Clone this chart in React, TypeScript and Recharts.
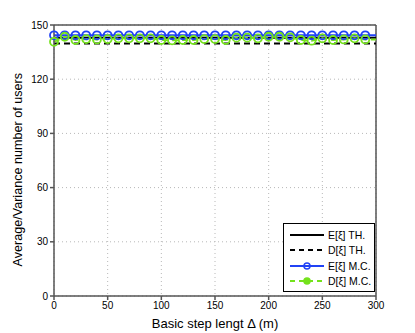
import { LineChart, Line, XAxis, YAxis, CartesianGrid, ReferenceLine } from "recharts"

const steps = [0, 10, 20, 30, 40, 50, 60, 70, 80, 90, 100, 110, 120, 130, 140, 150, 160, 170, 180, 190, 200, 210, 220, 230, 240, 250, 260, 270, 280, 290, 300]
const meanTh = [143, 143, 143, 143, 143, 143, 143, 143, 143, 143, 143, 143, 143, 143, 143, 143, 143, 143, 143, 143, 143, 143, 143, 143, 143, 143, 143, 143, 143, 143, 143]
const varTh = [139.8, 139.8, 139.8, 139.8, 139.8, 139.8, 139.8, 139.8, 139.8, 139.8, 139.8, 139.8, 139.8, 139.8, 139.8, 139.8, 139.8, 139.8, 139.8, 139.8, 139.8, 139.8, 139.8, 139.8, 139.8, 139.8, 139.8, 139.8, 139.8, 139.8, 139.8]
const meanMc = [144.3, 144.3, 144.3, 144.3, 144.3, 144.3, 144.3, 144.3, 144.3, 144.3, 144.3, 144.3, 144.3, 144.3, 144.3, 144.3, 144.3, 144.3, 144.3, 144.3, 144.3, 144.3, 144.3, 144.3, 144.3, 144.3, 144.3, 144.3, 144.3, 144.3, 144.3]
const varMc = [140.7, 143.5, 141.7, 142.2, 142.0, 142.2, 142.6, 142.6, 142.6, 142.6, 141.7, 141.5, 141.7, 141.7, 142.2, 142.2, 141.7, 143.0, 143.0, 142.6, 143.5, 143.5, 143.2, 141.7, 141.3, 142.6, 141.7, 142.0, 142.6, 142.0, 142.0]
const xTicks = [0, 50, 100, 150, 200, 250, 300]
const yTicks = [0, 30, 60, 90, 120, 150]

const data = steps.map((s, i) => ({
  step: s,
  eth: meanTh[i],
  dth: varTh[i],
  emc: meanMc[i],
  dmc: varMc[i],
}))

const BLUE = "#2142f5"
const GREEN = "#74e21c"
const FONT = "'Liberation Sans', Arial, sans-serif"

// matlab draws a marker every 10 but not on the last point
const makeDot = (color: string) => (props: any) => {
  const { cx, cy, payload, index } = props
  if (payload.step >= 300) return <g key={`d-${index}`} />
  return <circle key={`d-${index}`} cx={cx} cy={cy} r={4} fill="none" stroke={color} strokeWidth={1.8} />
}

const legendItems = [
  { label: "E[ξ] TH.", color: "#000", dash: undefined, marker: false },
  { label: "D[ξ] TH.", color: "#000", dash: "5 4", marker: false },
  { label: "E[ξ] M.C.", color: BLUE, dash: undefined, marker: true },
  { label: "D[ξ] M.C.", color: GREEN, dash: "5 4", marker: true },
]

const LegendBox = () => (
  <div
    style={{
      position: "absolute",
      left: 283,
      top: 223,
      width: 92,
      height: 69,
      border: "1px solid #000",
      background: "#fff",
      fontFamily: FONT,
      fontSize: 10.5,
      boxSizing: "border-box",
      paddingTop: 3,
    }}
  >
    {legendItems.map((it) => (
      <div key={it.label} style={{ display: "flex", alignItems: "center", height: 15.5 }}>
        <svg width={44} height={12}>
          <line x1={6} y1={6} x2={40} y2={6} stroke={it.color} strokeWidth={2} strokeDasharray={it.dash} />
          {it.marker && <circle cx={23} cy={6} r={3} fill={it.color === GREEN ? GREEN : "none"} stroke={it.color} strokeWidth={1.5} />}
        </svg>
        <span>{it.label}</span>
      </div>
    ))}
  </div>
)

export default function App() {
  return (
    <div style={{ position: "absolute", left: 0, top: 0, width: 415, height: 333, background: "#fff" }}>
      <LineChart width={415} height={333} data={data} margin={{ top: 25, right: 39, bottom: 0, left: 0 }}>
        <CartesianGrid stroke="#b8b8b8" strokeDasharray="1 3" />
        <XAxis
          dataKey="step"
          type="number"
          domain={[0, 300]}
          ticks={xTicks}
          stroke="#555"
          strokeWidth={1.5}
          tickSize={4}
          tick={{ fill: "#000", fontSize: 10, fontFamily: FONT }}
          height={37}
          label={{ value: "Basic step lengt Δ (m)", position: "insideBottom", offset: 5, fill: "#000", fontSize: 13, fontFamily: FONT }}
        />
        <YAxis
          type="number"
          domain={[0, 150]}
          ticks={yTicks}
          stroke="#555"
          strokeWidth={1.5}
          tickSize={4}
          width={54}
          tick={{ fill: "#000", fontSize: 10, fontFamily: FONT }}
          label={{ value: "Average/Variance number of users", angle: -90, position: "insideLeft", offset: 18, dy: 106, fill: "#000", fontSize: 12.6, fontFamily: FONT }}
        />
        <ReferenceLine y={150} stroke="#555" strokeWidth={1.5} />
        <ReferenceLine x={300} stroke="#555" strokeWidth={1.5} />
        <Line dataKey="eth" name="E[ξ] TH." stroke="#000" strokeWidth={2} dot={false} isAnimationActive={false} />
        <Line dataKey="dth" name="D[ξ] TH." stroke="#000" strokeWidth={2} strokeDasharray="6 4" dot={false} isAnimationActive={false} />
        <Line dataKey="emc" name="E[ξ] M.C." stroke={BLUE} strokeWidth={2} dot={makeDot(BLUE)} isAnimationActive={false} />
        <Line dataKey="dmc" name="D[ξ] M.C." stroke={GREEN} strokeWidth={2} strokeDasharray="6 4" dot={makeDot(GREEN)} isAnimationActive={false} />
      </LineChart>
      <LegendBox />
    </div>
  )
}
